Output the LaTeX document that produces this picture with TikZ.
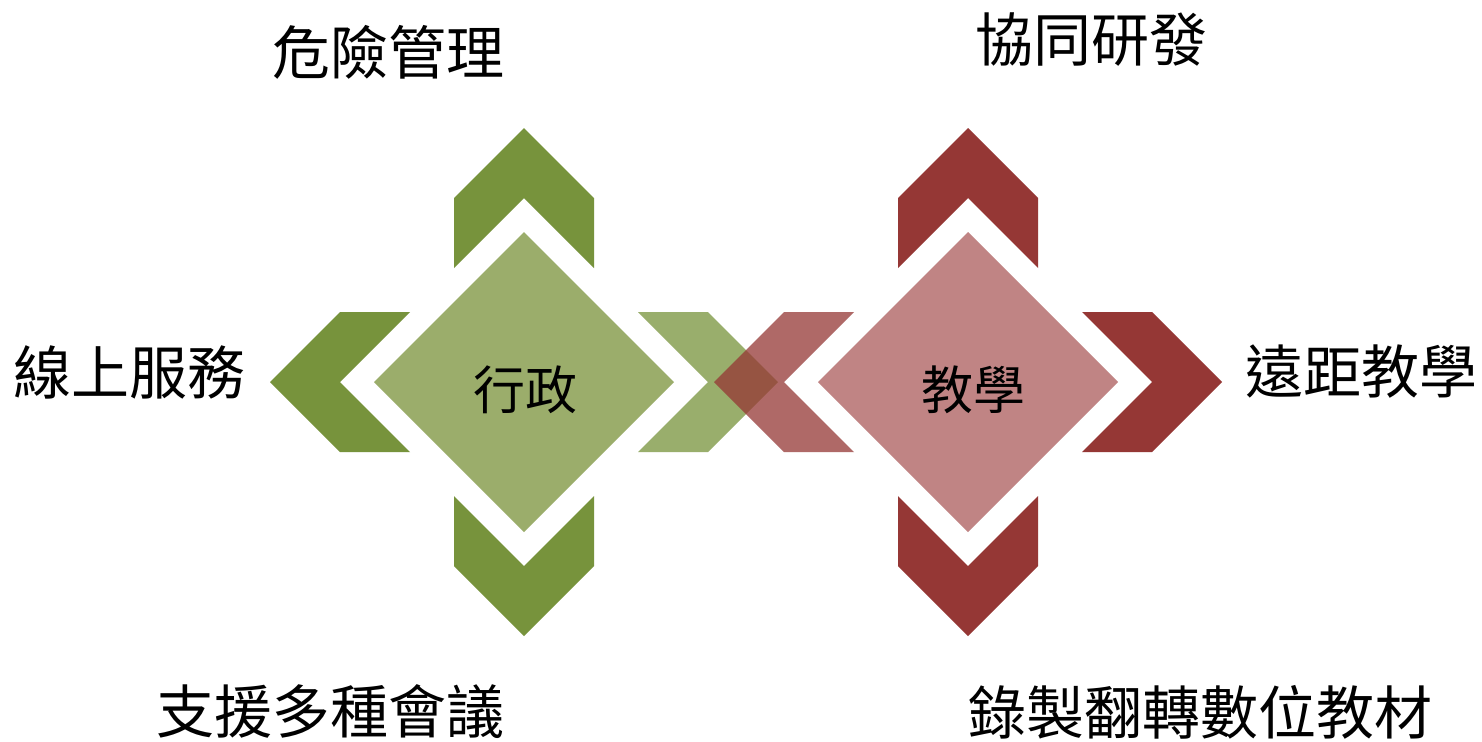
\documentclass[tikz,border=0pt]{standalone}
\usepackage{fontspec}
\setmainfont{Noto Sans CJK TC}
\definecolor{gdark}{HTML}{77933C}
\definecolor{glight}{HTML}{9BAD6B}
\definecolor{rdark}{HTML}{953735}
\definecolor{rlight}{HTML}{C08484}
\begin{document}
\begin{tikzpicture}[x=0.5pt,y=-0.5pt,
  chev/.pic={\fill[pic actions] (114,70) -- (184,70) -- (254,0) -- (184,-70) -- (114,-70) -- (184,0) -- cycle;},
  lbl/.style={font=\fontsize{29}{29}\selectfont, inner sep=0pt, text=black},
  clbl/.style={font=\fontsize{26}{26}\selectfont, inner sep=0pt, text=black}]
\useasboundingbox (0,0) rectangle (1482,741);
\fill[white] (0,0) rectangle (1482,741);
% left group
\pic[fill=gdark, rotate=90] at (524,382) {chev};
\pic[fill=gdark, rotate=270] at (524,382) {chev};
\pic[fill=gdark, rotate=180] at (524,382) {chev};
\fill[glight] (524,232) -- (674,382) -- (524,532) -- (374,382) -- cycle;
\pic[fill=gdark, fill opacity=0.75] at (524,382) {chev};
% right group
\pic[fill=rdark, rotate=90] at (968,382) {chev};
\pic[fill=rdark, rotate=270] at (968,382) {chev};
\pic[fill=rdark] at (968,382) {chev};
\fill[rlight] (968,232) -- (1118,382) -- (968,532) -- (818,382) -- cycle;
\pic[fill=rdark, fill opacity=0.75, rotate=180] at (968,382) {chev};
% labels
\node[clbl] (xz) at (525,390) {行政};
\node[clbl] (jx) at (973,390) {教學};
\node[lbl] (wx) at (388,52) {危險管理};
\node[lbl] (xt) at (1091,40) {協同研發};
\node[lbl] (xs) at (129,372) {線上服務};
\node[lbl] (yj) at (1361,372) {遠距教學};
\node[lbl] (zy) at (330,712) {支援多種會議};
\node[lbl] (lz) at (1200,712) {錄製翻轉數位教材};
\end{tikzpicture}
\end{document}
